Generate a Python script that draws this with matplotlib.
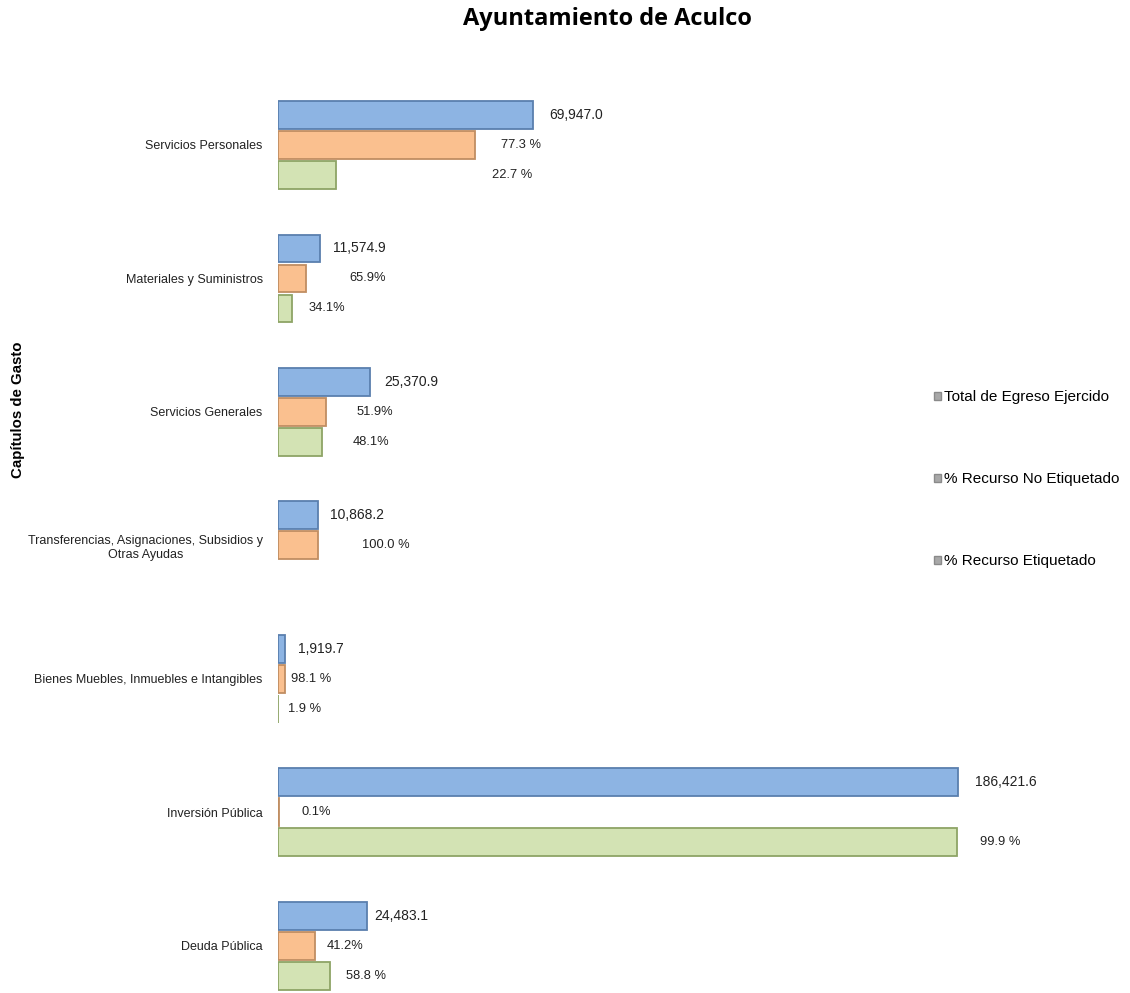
import matplotlib
matplotlib.use('Agg')
import matplotlib.pyplot as plt
from matplotlib.patches import Patch

# ---- data (miles de pesos / porcentajes) ----
capitulos = ['Servicios Personales',
             'Materiales y Suministros',
             'Servicios Generales',
             'Transferencias, Asignaciones, Subsidios y\nOtras Ayudas',
             'Bienes Muebles, Inmuebles e Intangibles',
             'Inversión Pública',
             'Deuda Pública']
total_egreso = [69947.0, 11574.9, 25370.9, 10868.2, 1919.7, 186421.6, 24483.1]
pct_no_etiq  = [77.3, 65.9, 51.9, 100.0, 98.1, 0.1, 41.2]
pct_etiq     = [22.7, 34.1, 48.1, None, 1.9, 99.9, 58.8]
series_names = ['Total de Egreso Ejercido', '% Recurso No Etiquetado',
                '% Recurso Etiquetado']

# ---- style / manual label placement (as in the original workbook) ----
fill = ['#8db4e3', '#fac08f', '#d3e3b4']
edge = ['#5a7fae', '#c08e62', '#8ea466']
off_tot = [16, 13, 14, 12, 13, 17, 7]      # px right of bar end
off_no  = [26, 44, 31, 44, 6, 23, 12]
off_et  = [156, 16, 30, 0, 10, 23, 16]
sep_no  = [' ', '', '', ' ', ' ', '', '']
sep_et  = [' ', '', '', '', ' ', ' ', ' ']

W, H = 1130, 993
fig = plt.figure(figsize=(W / 100, H / 100), dpi=100)
plt.rcParams['font.family'] = ['Liberation Sans', 'DejaVu Sans']

ax = fig.add_axes([278 / W, 0, 700 / W, (993 - 60) / H])
ax.set_xlim(0, 192000)
ax.set_ylim(28.27, -2.833)
for s in ax.spines.values():
    s.set_visible(False)
ax.set_xticks([])

gap = 4.45
h = 0.93
centers = [i * gap for i in range(len(capitulos))]
px = 192000 / 700.0  # data units per pixel along x

monto_no = [t * p / 100 for t, p in zip(total_egreso, pct_no_etiq)]

ax.barh([c - 1 for c in centers], total_egreso, height=h, color=fill[0],
        edgecolor=edge[0], linewidth=1.3)
ax.barh(centers, monto_no, height=h, color=fill[1], edgecolor=edge[1],
        linewidth=1.3)
idx_et = [i for i, p in enumerate(pct_etiq) if p is not None]
monto_et = [total_egreso[i] * pct_etiq[i] / 100 for i in idx_et]
ax.barh([centers[i] + 1 for i in idx_et], monto_et, height=h, color=fill[2],
        edgecolor=edge[2], linewidth=1.3)

txt = dict(va='center', ha='left', color='#222222')
for i, c in enumerate(centers):
    ax.text(total_egreso[i] + off_tot[i] * px, c - 1,
            f'{total_egreso[i]:,.1f}', fontsize=10, **txt)
    ax.text(monto_no[i] + off_no[i] * px, c,
            f'{pct_no_etiq[i]:.1f}{sep_no[i]}%', fontsize=9.3, **txt)
for i, m in zip(idx_et, monto_et):
    ax.text(m + off_et[i] * px, centers[i] + 1,
            f'{pct_etiq[i]:.1f}{sep_et[i]}%', fontsize=9.3, **txt)

ax.set_yticks(centers, capitulos)
ax.tick_params(axis='y', length=0, pad=11, labelsize=9, labelcolor='#222222')
for lbl in ax.get_yticklabels():
    lbl.set_multialignment('center')

fig.text(18 / W, 1 - 410 / H, 'Capítulos de Gasto', rotation=90,
         ha='center', va='center', fontsize=10.8, fontweight='bold')
fig.text(607 / W, 1 - 19 / H, 'Ayuntamiento de Aculco', ha='center',
         va='center', fontsize=17, fontweight='bold', family='Open Sans')

handles = [Patch(facecolor='#a8a8a8', edgecolor='#8a8a8a') for _ in series_names]
fig.legend(handles, series_names, loc='upper left',
           bbox_to_anchor=(928 / W, 1 - 384 / H), frameon=False,
           fontsize=11, handlelength=0.45, handleheight=0.45,
           handletextpad=0.2, labelspacing=4.45, borderaxespad=0)

fig.savefig('out.png', dpi=100)
